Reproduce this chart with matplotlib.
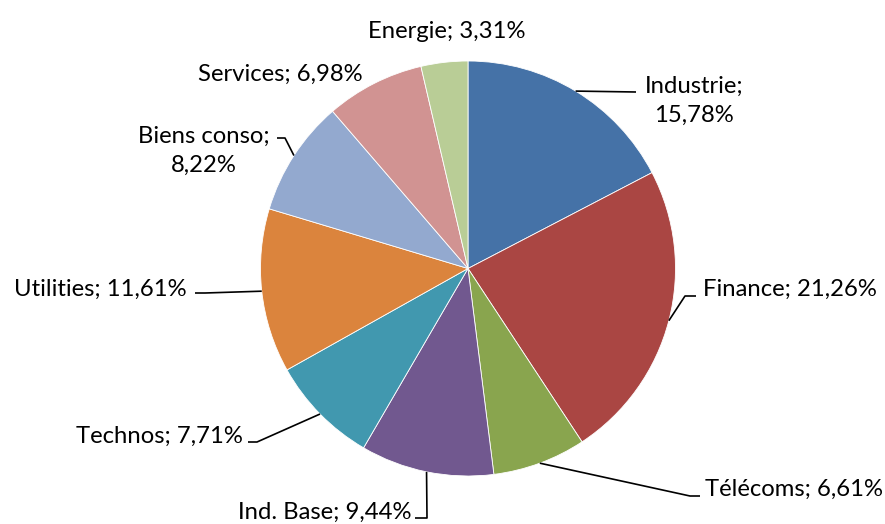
import numpy as np
import matplotlib
matplotlib.use("Agg")
import matplotlib.pyplot as plt

plt.rcParams['font.family'] = ['Lato', 'DejaVu Sans']

# données (ordre horaire depuis midi)
secteurs = ['Industrie', 'Finance', 'Télécoms', 'Ind. Base', 'Technos',
            'Utilities', 'Biens conso', 'Services', 'Energie']
poids = [15.78, 21.26, 6.61, 9.44, 7.71, 11.61, 8.22, 6.98, 3.31]
couleurs = ['#4572A7', '#AA4643', '#89A54E', '#71588F', '#4198AF',
            '#DB843D', '#93A9CF', '#D19392', '#B9CD96']

W, H = 885, 524
fig = plt.figure(figsize=(W / 100, H / 100), dpi=100)
ax = fig.add_axes([0, 0, 1, 1])

cx, cy, r = 468, H - 268.5, 207.5
wedges, _ = ax.pie(poids, colors=couleurs, startangle=90, counterclock=False,
                   center=(cx, cy), radius=r, frame=True,
                   wedgeprops=dict(edgecolor='white', linewidth=0.6))
ax.set_xlim(0, W)
ax.set_ylim(0, H)
ax.axis('off')


def fmt(v):
    return f"{v:.2f}".replace('.', ',') + '%'


# position des étiquettes (pixels, y depuis le haut), alignement, coude de la ligne
etiquettes = {
    'Industrie':   dict(xy=(694, 101), ha='center', wrap=True, coude=[(636, 92)]),
    'Finance':     dict(xy=(703, 289), ha='left', coude=[(685, 296), (696, 296)]),
    'Télécoms':    dict(xy=(705, 489), ha='left', coude=[(690, 496), (700, 496)]),
    'Ind. Base':   dict(xy=(411, 512), ha='right', coude=[(427, 518), (415, 518)]),
    'Technos':     dict(xy=(243, 436), ha='right', coude=[(257, 442), (248, 442)]),
    'Utilities':   dict(xy=(187, 289), ha='right', coude=[(205, 293), (195, 293)]),
    'Biens conso': dict(xy=(204, 151), ha='center', wrap=True, coude=[(285, 138), (277, 138)]),
    'Services':    dict(xy=(280, 74), ha='center', coude=None),
    'Energie':     dict(xy=(447, 32), ha='center', coude=None),
}

for w, nom, v in zip(wedges, secteurs, poids):
    e = etiquettes[nom]
    sep = ';\n' if e.get('wrap') else '; '
    x, y = e['xy']
    ax.text(x, H - y, nom + sep + fmt(v), ha=e['ha'], va='center',
            multialignment='center', fontsize=17.2, color='black', linespacing=1.5)
    if e['coude']:
        ang = np.deg2rad((w.theta1 + w.theta2) / 2)
        px = [cx + r * np.cos(ang)] + [p[0] for p in e['coude']]
        py = [cy + r * np.sin(ang)] + [H - p[1] for p in e['coude']]
        ax.plot(px, py, color='black', linewidth=1.2, solid_capstyle='butt')

fig.savefig('out.png', dpi=100, facecolor='white')
